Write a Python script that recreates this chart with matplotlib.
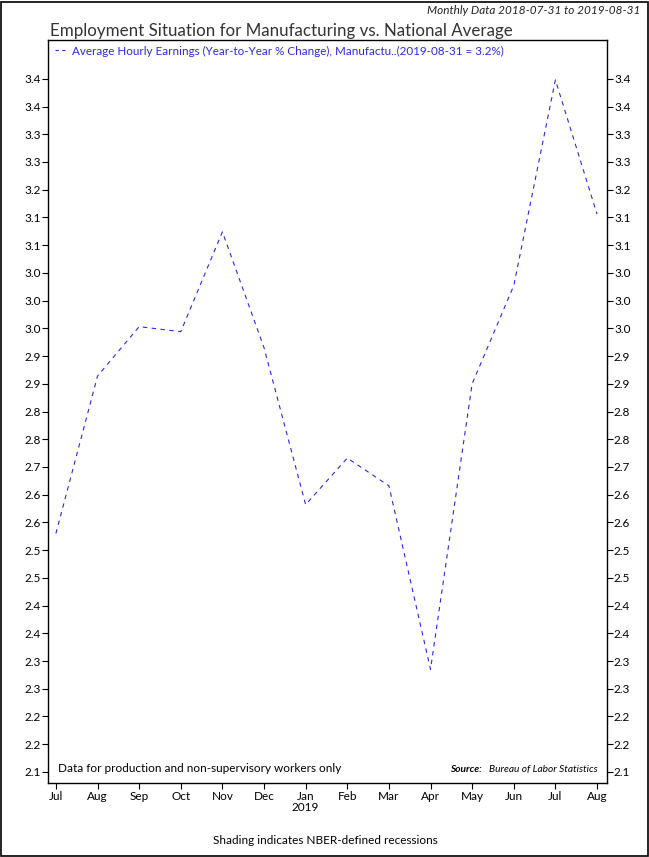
import numpy as np
import matplotlib.pyplot as plt
from matplotlib.ticker import FixedLocator, FixedFormatter
from matplotlib.lines import Line2D

plt.rcParams['font.family'] = ['Lato', 'DejaVu Sans']

months = ['Jul', 'Aug', 'Sep', 'Oct', 'Nov', 'Dec', 'Jan', 'Feb', 'Mar', 'Apr', 'May', 'Jun', 'Jul', 'Aug']
earnings = [2.58, 2.864, 2.953, 2.944, 3.124, 2.915, 2.632, 2.716, 2.666, 2.335, 2.850, 3.027, 3.398, 3.156]
ytick_vals = [2.15 + 0.05 * i for i in range(26)]
ytick_labels = ['2.1', '2.2', '2.2', '2.3', '2.3', '2.4', '2.4', '2.5', '2.5', '2.6', '2.6', '2.7', '2.8',
                '2.8', '2.9', '2.9', '3.0', '3.0', '3.0', '3.1', '3.1', '3.2', '3.3', '3.3', '3.4', '3.4']
legend_label = 'Average Hourly Earnings (Year-to-Year % Change), Manufactu..(2019-08-31 = 3.2%)'

W, H = 649, 857
fig = plt.figure(figsize=(W / 100, H / 100), dpi=100)
ax = fig.add_axes([48 / W, 1 - 783 / H, (607 - 48) / W, (783 - 40) / H])

x = np.arange(len(months))
line_col = '#2b2bd9'
ax.plot(x, earnings, color=line_col, lw=0.8, dashes=(4, 4))

ax.set_xlim(-0.19, 13.24)
ax.set_ylim(2.13, 3.47)

ax.yaxis.set_major_locator(FixedLocator(ytick_vals))
ax.yaxis.set_major_formatter(FixedFormatter(ytick_labels))
ax.tick_params(axis='y', which='both', left=True, right=True, labelleft=True, labelright=True,
               direction='out', length=4, width=0.8, labelsize=8.5, pad=1)
ax.set_xticks(x)
ax.set_xticklabels(months)
ax.tick_params(axis='x', direction='out', length=4, width=0.8, labelsize=8.5, pad=1.5)
for s in ax.spines.values():
    s.set_linewidth(1.0)

# year label under Jan
ax.text(6, -0.025, '2019', transform=ax.get_xaxis_transform(), ha='center', va='top', fontsize=8.5)

# legend entry
handle = Line2D([], [], color=line_col, lw=0.8, dashes=(3, 3))
leg = ax.legend([handle], [legend_label], loc='upper left', frameon=False, fontsize=8.4,
                handlelength=1.0, handletextpad=0.5, borderaxespad=0.2, bbox_to_anchor=(0, 1.002))
for t in leg.get_texts():
    t.set_color(line_col)

# annotations inside the axes
ax.text(0.018, 0.012, 'Data for production and non-supervisory workers only', transform=ax.transAxes,
        ha='left', va='bottom', fontsize=8.5)
src = ax.text(0.983, 0.012, 'Bureau of Labor Statistics', transform=ax.transAxes, ha='right', va='bottom',
              fontsize=7.3, style='italic')
fig.canvas.draw()
bb = src.get_window_extent()
ax.text(bb.x0 - 7, bb.y0, 'Source:', transform=None, ha='right', va='bottom',
        fontsize=7.3, style='italic', weight='bold')

# titles and footer
fig.text(50 / W, 1 - 31 / H, 'Employment Situation for Manufacturing vs. National Average',
         ha='left', va='center', fontsize=12.2, color='#333333')
fig.text(640 / W, 1 - 10 / H, 'Monthly Data 2018-07-31 to 2019-08-31', ha='right', va='center',
         fontsize=8.5, style='italic', color='#222222')
fig.text(325 / W, 1 - 840 / H, 'Shading indicates NBER-defined recessions', ha='center', va='center',
         fontsize=8.5)

# outer border
fig.patches.append(plt.Rectangle((0.001, 0.001), 0.997, 0.997, transform=fig.transFigure,
                                 fill=False, edgecolor='black', lw=1.2))

fig.savefig('out.png', dpi=100)
